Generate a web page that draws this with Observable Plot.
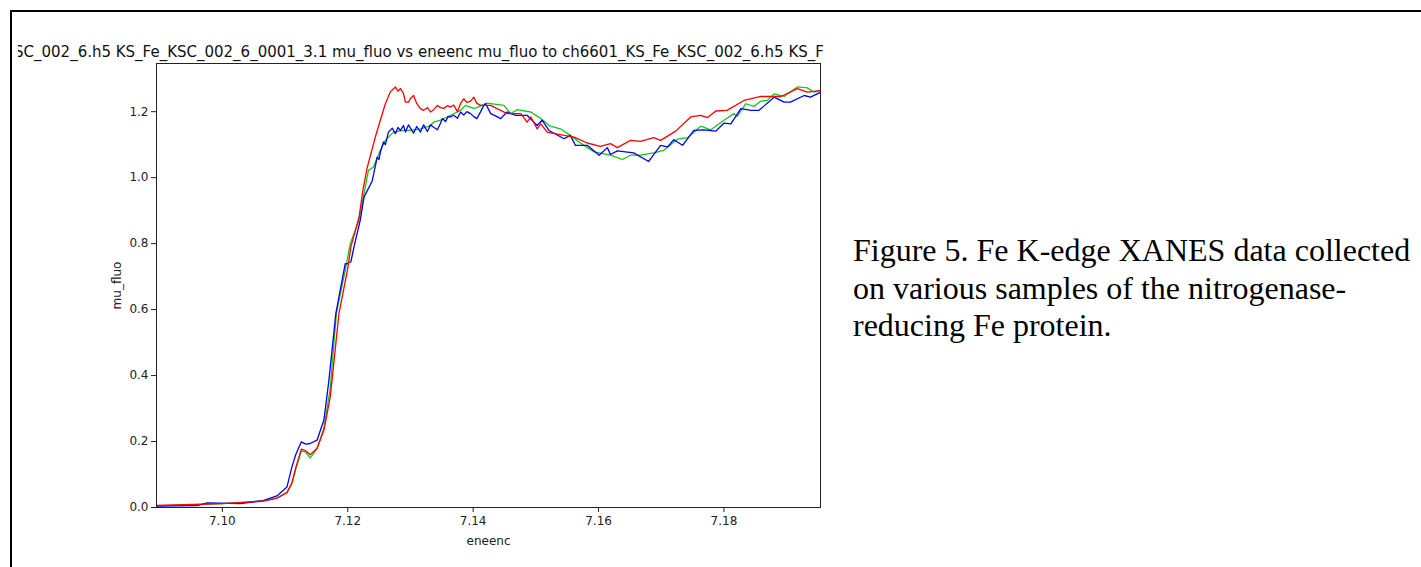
<!DOCTYPE html>
<html>
<head>
<meta charset="utf-8">
<script src="https://cdn.jsdelivr.net/npm/d3@7"></script>
<script src="https://cdn.jsdelivr.net/npm/@observablehq/plot@0.6"></script>
<style>
  html, body { margin: 0; padding: 0; background: #fff; width: 1421px; height: 567px; overflow: hidden; }
  #page { position: relative; width: 1421px; height: 567px; }
  #borderTop { position: absolute; left: 10px; top: 10px; width: 1411px; height: 2px; background: #000; }
  #borderLeft { position: absolute; left: 10px; top: 10px; width: 2px; height: 557px; background: #000; }
  #clip { position: absolute; left: 18px; top: 12px; width: 808px; height: 555px; overflow: hidden; }
  #chart { position: absolute; left: -18px; top: -12px; }
  #title { position: absolute; left: -4px; top: 31px; white-space: nowrap; font-family: "DejaVu Sans", sans-serif; font-size: 15px; color: #111; }
  #caption { position: absolute; left: 853px; top: 232px; width: 570px; font-family: "Liberation Serif", "Times New Roman", serif; font-size: 32px; line-height: 37.5px; color: #000; }
</style>
</head>
<body>
<div id="page">
  <div id="borderTop"></div>
  <div id="borderLeft"></div>
  <div id="clip">
    <div id="chart"></div>
    <div id="title"></div>
  </div>
  <div id="caption"></div>
</div>
<script>
const titleText = "SC_002_6.h5 KS_Fe_KSC_002_6_0001_3.1 mu_fluo vs eneenc mu_fluo to ch6601_KS_Fe_KSC_002_6.h5 KS_F";
const captionText = "Figure 5. Fe K-edge XANES data collected on various samples of the nitrogenase-reducing Fe protein.";
const xLabel = "eneenc";
const yLabel = "mu_fluo";
const xTicks = [7.10, 7.12, 7.14, 7.16, 7.18];
const yTicks = [0.0, 0.2, 0.4, 0.6, 0.8, 1.0, 1.2];

const redE = [7.0895,7.1000,7.1065,7.1087,7.1103,7.1111,7.1117,7.1126,7.1133,7.1140,7.1151,7.1162,7.1172,7.1175,7.1186,7.1200,7.1205,7.1218,7.1224,7.1231,7.1244,7.1252,7.1260,7.1268,7.1276,7.1280,7.1284,7.1289,7.1292,7.1297,7.1300,7.1305,7.1310,7.1316,7.1321,7.1327,7.1332,7.1337,7.1343,7.1348,7.1353,7.1359,7.1364,7.1369,7.1375,7.1380,7.1385,7.1390,7.1396,7.1401,7.1406,7.1412,7.1422,7.1428,7.1438,7.1444,7.1454,7.1476,7.1486,7.1492,7.1502,7.1508,7.1518,7.1545,7.1561,7.1582,7.1603,7.1619,7.1630,7.1651,7.1667,7.1688,7.1699,7.1723,7.1747,7.1763,7.1774,7.1787,7.1805,7.1832,7.1859,7.1891,7.1917,7.1933,7.1954];
const redMu = [0.006,0.012,0.019,0.028,0.045,0.075,0.120,0.177,0.172,0.160,0.179,0.234,0.334,0.386,0.588,0.725,0.790,0.880,0.960,1.030,1.123,1.174,1.224,1.260,1.275,1.262,1.270,1.255,1.229,1.229,1.240,1.249,1.225,1.209,1.204,1.212,1.199,1.206,1.219,1.212,1.210,1.218,1.214,1.220,1.200,1.225,1.239,1.228,1.232,1.244,1.225,1.219,1.219,1.219,1.209,1.204,1.194,1.194,1.168,1.184,1.148,1.163,1.138,1.128,1.123,1.105,1.095,1.103,1.091,1.113,1.110,1.121,1.113,1.141,1.184,1.189,1.182,1.202,1.204,1.234,1.246,1.246,1.270,1.259,1.264];

const greenE = [7.0895,7.1000,7.1065,7.1087,7.1103,7.1111,7.1117,7.1126,7.1133,7.1140,7.1151,7.1162,7.1172,7.1182,7.1196,7.1204,7.1218,7.1233,7.1241,7.1252,7.1260,7.1273,7.1289,7.1300,7.1316,7.1332,7.1337,7.1348,7.1364,7.1380,7.1385,7.1388,7.1401,7.1406,7.1422,7.1449,7.1460,7.1470,7.1492,7.1508,7.1523,7.1539,7.1555,7.1571,7.1593,7.1619,7.1638,7.1651,7.1667,7.1688,7.1704,7.1726,7.1742,7.1763,7.1779,7.1800,7.1816,7.1821,7.1835,7.1848,7.1859,7.1869,7.1880,7.1896,7.1917,7.1933,7.1944,7.1954];
const greenMu = [0.005,0.012,0.020,0.029,0.045,0.072,0.115,0.172,0.168,0.150,0.178,0.240,0.360,0.590,0.719,0.800,0.871,1.022,1.032,1.083,1.113,1.138,1.143,1.143,1.148,1.158,1.168,1.174,1.189,1.204,1.214,1.219,1.210,1.212,1.226,1.219,1.194,1.206,1.199,1.179,1.156,1.148,1.128,1.105,1.078,1.068,1.055,1.068,1.068,1.075,1.083,1.117,1.121,1.156,1.145,1.174,1.194,1.186,1.224,1.216,1.232,1.234,1.254,1.246,1.275,1.272,1.259,1.264];

const blueE = [7.0895,7.0960,7.0976,7.1029,7.1065,7.1087,7.1103,7.1111,7.1117,7.1126,7.1133,7.1140,7.1151,7.1162,7.1170,7.1181,7.1196,7.1199,7.1205,7.1210,7.1220,7.1226,7.1239,7.1247,7.1250,7.1252,7.1257,7.1260,7.1265,7.1271,7.1276,7.1280,7.1284,7.1289,7.1292,7.1297,7.1300,7.1305,7.1310,7.1316,7.1321,7.1327,7.1332,7.1337,7.1343,7.1348,7.1351,7.1356,7.1360,7.1364,7.1369,7.1375,7.1380,7.1385,7.1390,7.1396,7.1401,7.1406,7.1412,7.1417,7.1420,7.1428,7.1438,7.1444,7.1454,7.1468,7.1486,7.1502,7.1510,7.1521,7.1545,7.1555,7.1563,7.1582,7.1601,7.1614,7.1619,7.1630,7.1656,7.1680,7.1699,7.1710,7.1720,7.1734,7.1752,7.1768,7.1787,7.1800,7.1811,7.1827,7.1843,7.1856,7.1880,7.1896,7.1906,7.1928,7.1938,7.1954];
const blueMu = [0.004,0.006,0.014,0.012,0.021,0.035,0.062,0.123,0.160,0.199,0.192,0.194,0.204,0.265,0.386,0.588,0.739,0.739,0.745,0.790,0.871,0.941,0.990,1.062,1.055,1.077,1.108,1.100,1.138,1.150,1.133,1.152,1.143,1.158,1.138,1.160,1.150,1.135,1.155,1.138,1.160,1.140,1.160,1.153,1.145,1.165,1.179,1.170,1.185,1.184,1.189,1.180,1.199,1.190,1.200,1.194,1.185,1.179,1.200,1.219,1.224,1.194,1.185,1.179,1.199,1.189,1.189,1.158,1.174,1.143,1.118,1.128,1.098,1.098,1.068,1.091,1.070,1.081,1.075,1.049,1.098,1.093,1.115,1.098,1.143,1.145,1.141,1.165,1.163,1.209,1.204,1.204,1.244,1.229,1.229,1.249,1.244,1.259];

const toRows = (E, M, s) => E.map((e, i) => ({e, mu: M[i], s}));
const green = toRows(greenE, greenMu, "green");
const blue = toRows(blueE, blueMu, "blue");
const red = toRows(redE, redMu, "red");

const chart = Plot.plot({
  width: 826,
  height: 567,
  marginLeft: 156,
  marginRight: 6,
  marginTop: 63,
  marginBottom: 60,
  style: {fontFamily: "DejaVu Sans, sans-serif", fontSize: "12px", color: "#222", background: "transparent"},
  x: {domain: [7.0895, 7.1954]},
  y: {domain: [0, 1.346]},
  marks: [
    Plot.line(green, {x: "e", y: "mu", stroke: "#14c814", strokeWidth: 1.3, clip: true}),
    Plot.line(blue, {x: "e", y: "mu", stroke: "#0000ff", strokeWidth: 1.3, clip: true}),
    Plot.line(red, {x: "e", y: "mu", stroke: "#ff0000", strokeWidth: 1.3, clip: true}),
    Plot.frame({stroke: "#222", strokeWidth: 1}),
    Plot.axisX({ticks: xTicks, tickFormat: d3.format(".2f"), tickSize: 5, tickPadding: 4, label: xLabel, labelAnchor: "center", labelArrow: "none", labelOffset: 37, stroke: "#222"}),
    Plot.axisY({ticks: yTicks, tickFormat: d3.format(".1f"), tickSize: 5, tickPadding: 3, label: yLabel, labelAnchor: "center", labelArrow: "none", labelOffset: 44, stroke: "#222"})
  ]
});
document.getElementById("chart").appendChild(chart);
document.getElementById("title").textContent = titleText;
document.getElementById("caption").textContent = captionText;
</script>
</body>
</html>
